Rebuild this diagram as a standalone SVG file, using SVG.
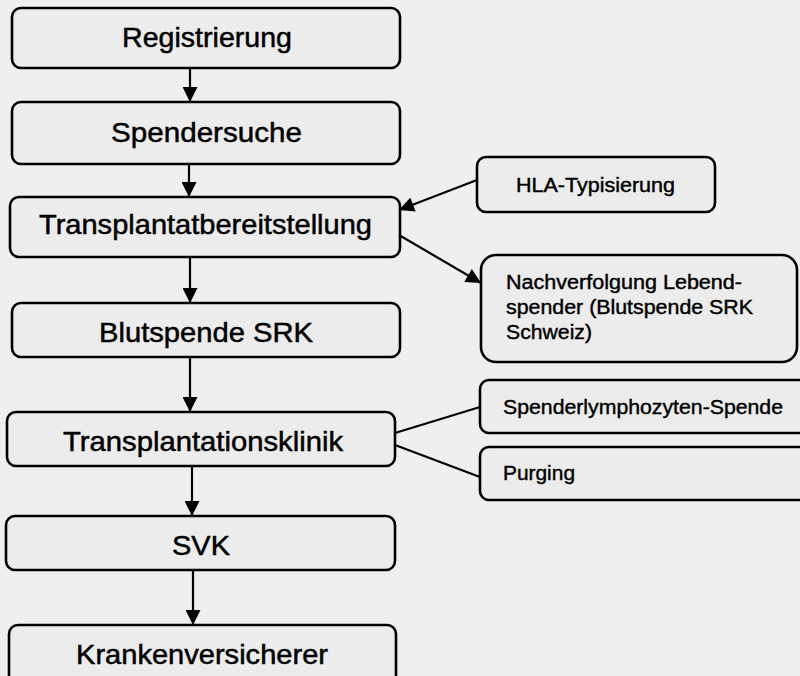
<svg xmlns="http://www.w3.org/2000/svg" width="800" height="676" viewBox="0 0 800 676">
<style>
.box{fill:#ececec;stroke:#000;stroke-width:2.6}
.lbl{font-family:"Liberation Sans",Arial,sans-serif;font-size:28px;fill:#000;stroke:#000;stroke-width:0.5}
.sm{font-family:"Liberation Sans",Arial,sans-serif;font-size:19.5px;fill:#000;stroke:#000;stroke-width:0.4}
.con{stroke:#000;stroke-width:2.2;fill:none}
</style>
<defs>
<marker id="ah" viewBox="0 0 10 10" refX="10" refY="5" markerWidth="16" markerHeight="15" markerUnits="userSpaceOnUse" orient="auto">
<path d="M0,0 L10,5 L0,10 z" fill="#000"/>
</marker>
</defs>
<rect x="0" y="0" width="800" height="676" fill="#efefef"/>
<g id="n1"><rect class="box" x="12" y="8" width="388" height="60" rx="9"/><text class="lbl" x="122" y="47" textLength="170" lengthAdjust="spacingAndGlyphs">Registrierung</text></g>
<g id="n2"><rect class="box" x="12" y="102" width="388" height="62" rx="9"/><text class="lbl" x="111" y="142" textLength="191" lengthAdjust="spacingAndGlyphs">Spendersuche</text></g>
<g id="n3"><rect class="box" x="10" y="197" width="390" height="60" rx="9"/><text class="lbl" x="39" y="234" textLength="333" lengthAdjust="spacingAndGlyphs">Transplantatbereitstellung</text></g>
<g id="n4"><rect class="box" x="12" y="303" width="388" height="54" rx="9"/><text class="lbl" x="99" y="342" textLength="214" lengthAdjust="spacingAndGlyphs">Blutspende SRK</text></g>
<g id="n5"><rect class="box" x="7" y="412" width="388" height="54" rx="9"/><text class="lbl" x="63" y="451" textLength="280" lengthAdjust="spacingAndGlyphs">Transplantationsklinik</text></g>
<g id="n6"><rect class="box" x="6" y="516" width="389" height="54" rx="9"/><text class="lbl" x="172" y="555" textLength="58" lengthAdjust="spacingAndGlyphs">SVK</text></g>
<g id="n7"><rect class="box" x="9" y="625" width="387" height="62" rx="9"/><text class="lbl" x="76" y="664" textLength="252" lengthAdjust="spacingAndGlyphs">Krankenversicherer</text></g>
<g id="n8"><rect class="box" x="477" y="157" width="238" height="55" rx="9"/><text class="sm" x="516" y="192" textLength="159" lengthAdjust="spacingAndGlyphs">HLA-Typisierung</text></g>
<g id="n9"><rect class="box" x="481" y="255" width="316" height="107" rx="15"/><text class="sm" x="506" y="289" textLength="236" lengthAdjust="spacingAndGlyphs">Nachverfolgung Lebend-</text><text class="sm" x="506" y="314" textLength="247" lengthAdjust="spacingAndGlyphs">spender (Blutspende SRK</text><text class="sm" x="506" y="339" textLength="86" lengthAdjust="spacingAndGlyphs">Schweiz)</text></g>
<g id="n10"><rect class="box" x="480" y="380" width="330" height="53" rx="9"/><text class="sm" x="503" y="414" textLength="280" lengthAdjust="spacingAndGlyphs">Spenderlymphozyten-Spende</text></g>
<g id="n11"><rect class="box" x="480" y="447" width="330" height="53" rx="9"/><text class="sm" x="503" y="480" textLength="72" lengthAdjust="spacingAndGlyphs">Purging</text></g>
<g id="connectors">
<line class="con" x1="190" y1="68" x2="190" y2="102" marker-end="url(#ah)"/>
<line class="con" x1="189" y1="164" x2="189" y2="197" marker-end="url(#ah)"/>
<line class="con" x1="190" y1="257" x2="190" y2="303" marker-end="url(#ah)"/>
<line class="con" x1="190" y1="357" x2="190" y2="412" marker-end="url(#ah)"/>
<line class="con" x1="192" y1="466" x2="192" y2="516" marker-end="url(#ah)"/>
<line class="con" x1="193" y1="570" x2="193" y2="625" marker-end="url(#ah)"/>
<line class="con" x1="477" y1="180" x2="399" y2="210" marker-end="url(#ah)"/>
<line class="con" x1="399" y1="235" x2="481" y2="283" marker-end="url(#ah)"/>
<line class="con" x1="395" y1="433" x2="480" y2="407"/>
<line class="con" x1="395" y1="445" x2="480" y2="477"/>
</g>
</svg>
